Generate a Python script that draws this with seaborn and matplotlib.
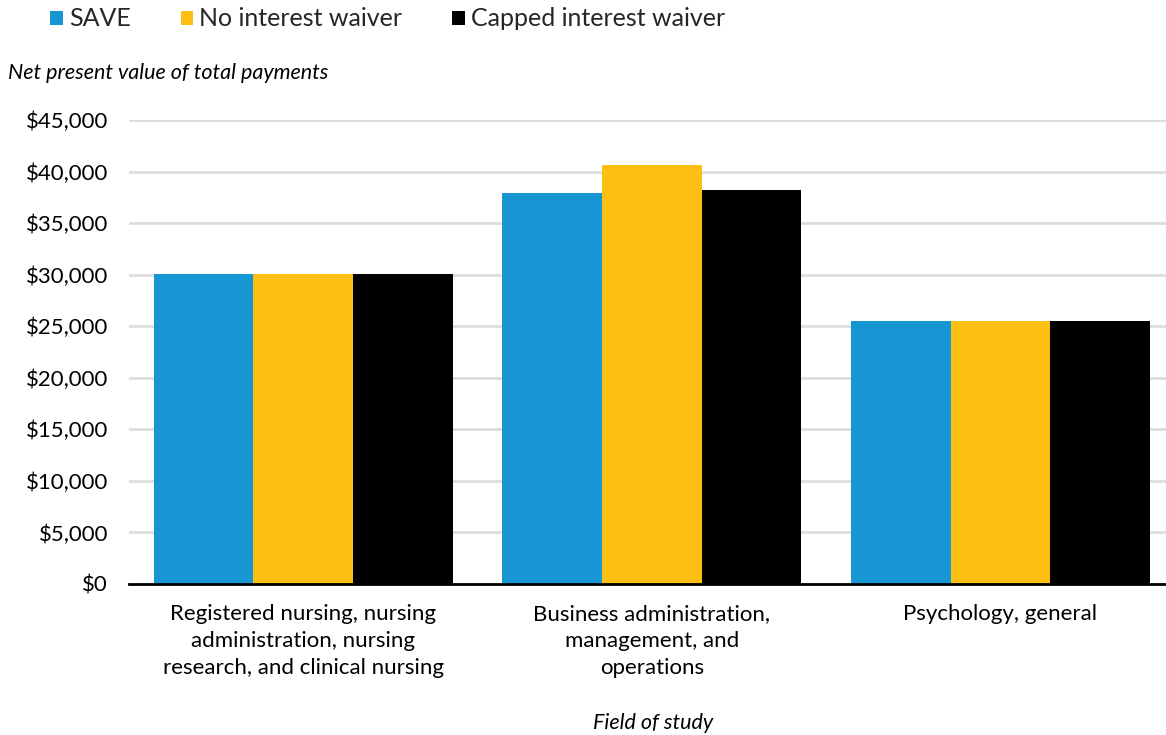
import matplotlib
matplotlib.use("Agg")
import matplotlib.pyplot as plt
import seaborn as sns
import pandas as pd
from matplotlib.ticker import FuncFormatter, MultipleLocator

fields = [
    "Registered nursing, nursing\nadministration, nursing\nresearch, and clinical nursing",
    "Business administration,\nmanagement, and\noperations",
    "Psychology, general",
]
plans = ["SAVE", "No interest waiver", "Capped interest waiver"]
save_values = [30050, 37900, 25550]
no_waiver_values = [30050, 40600, 25550]
capped_values = [30050, 38200, 25550]
colors = ["#1696D2", "#FDBF11", "#000000"]

rows = []
for plan, vals in zip(plans, [save_values, no_waiver_values, capped_values]):
    for f, v in zip(fields, vals):
        rows.append({"field": f, "plan": plan, "value": v})
df = pd.DataFrame(rows)

sns.set_theme(style="white")
plt.rcParams["font.family"] = ["Lato", "DejaVu Sans"]

fig = plt.figure(figsize=(11.66, 7.35), dpi=100)
W, H = 1166, 735
left, right, top, bottom = 129, 1166, 120, 584
ax = fig.add_axes([left / W, (H - bottom) / H, (right - left) / W, (bottom - top) / H])

sns.barplot(data=df, x="field", y="value", hue="plan", order=fields,
            hue_order=plans, palette=colors, saturation=1, width=0.858,
            linewidth=0, ax=ax, zorder=3)

ax.set_ylim(0, 45000)
ax.set_xlim(-0.5, 2.475)
ax.yaxis.set_major_locator(MultipleLocator(5000))
ax.yaxis.set_major_formatter(FuncFormatter(lambda v, p: f"${v:,.0f}"))
ax.grid(axis="y", color="#DEDDDD", linewidth=2, zorder=0)
ax.set_axisbelow(True)
for s in ["top", "right", "left"]:
    ax.spines[s].set_visible(False)
ax.spines["bottom"].set_color("#000000")
ax.spines["bottom"].set_linewidth(2)
ax.spines["bottom"].set_zorder(5)
ax.tick_params(axis="y", length=0, pad=15, labelsize=16, labelcolor="#000000")
ax.tick_params(axis="x", length=0, pad=14.5, labelsize=16, labelcolor="#000000")
for lbl in ax.get_xticklabels():
    lbl.set_linespacing(1.43)
ax.set_xlabel("")
ax.set_ylabel("")

fig.text(8 / W, 1 - 73 / H, "Net present value of total payments", fontsize=15.5,
         style="italic", ha="left", va="center", color="#000000")
fig.text(653 / W, 1 - 723 / H, "Field of study", fontsize=15.5,
         style="italic", ha="center", va="center", color="#000000")

handles, labels = ax.get_legend_handles_labels()
ax.get_legend().remove()
fig.legend(handles, labels, loc="center left", bbox_to_anchor=(50 / W, 1 - 19 / H),
           ncol=3, frameon=False, fontsize=18, handlelength=0.5,
           handleheight=0.5, handletextpad=0.25, columnspacing=2.0,
           borderaxespad=0, borderpad=0)

fig.savefig("out.png", dpi=100)
